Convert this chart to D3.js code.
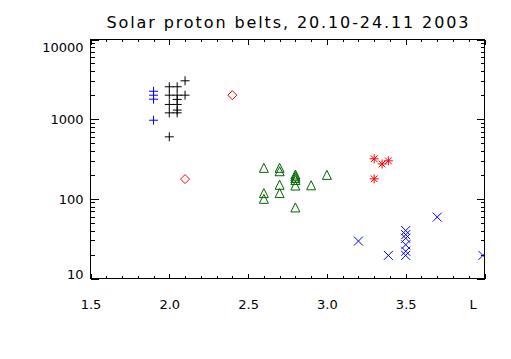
<!DOCTYPE html>
<html>
<head>
<meta charset="utf-8">
<script src="https://cdn.jsdelivr.net/npm/d3@7"></script>
<style>
  html, body { margin: 0; padding: 0; background: #fff; }
  svg { display: block; }
  text { font-family: "DejaVu Sans", sans-serif; fill: #000; }
</style>
</head>
<body>
<script>
// ---- data (L, flux) ----
const title = "Solar proton belts, 20.10-24.11 2003";
const xTickValues = [1.5, 2.0, 2.5, 3.0, 3.5, 4.0];
const xTickLabels = ["1.5", "2.0", "2.5", "3.0", "3.5", "L"];
const yTickValues = [10, 100, 1000, 10000];

const bluePlus = [[1.9, 2240], [1.9, 2000], [1.9, 1780], [1.9, 970]];
const blackPlus = [
  [2.0, 2550], [2.0, 2000], [2.0, 1530], [2.0, 1200], [2.0, 600],
  [2.05, 2550], [2.05, 2000], [2.05, 1770], [2.05, 1530], [2.05, 1300], [2.05, 1200],
  [2.1, 3030], [2.1, 2000]
];
const redDiamond = [[2.4, 2000], [2.1, 177]];
const greenTriangle = [
  [2.6, 245], [2.6, 118], [2.6, 100],
  [2.7, 245], [2.7, 222], [2.7, 150], [2.7, 118],
  [2.8, 202], [2.8, 192], [2.8, 182], [2.8, 172], [2.8, 147], [2.8, 78],
  [2.9, 148], [3.0, 200]
];
const redAsterisk = [[3.3, 318], [3.35, 274], [3.39, 300], [3.3, 178]];
const blueX = [
  [3.2, 29.5], [3.39, 19.5],
  [3.5, 40], [3.5, 35.5], [3.5, 32], [3.5, 26.5], [3.5, 22], [3.5, 19.5],
  [3.7, 59], [3.99, 19.5]
];

// ---- layout ----
const W = 511, H = 359;
const pL = 90.5, pR = 484.5, pT = 39.5, pB = 278.5;

const svg = d3.select("body").append("svg").attr("width", W).attr("height", H);
svg.append("rect").attr("width", W).attr("height", H).attr("fill", "#fff");

const x = d3.scaleLinear().domain([1.5, 4.0]).range([pL, pR]);
const y = d3.scaleLog().domain([10, 10000]).range([pB, pT]);

const xMinor = d3.range(15, 41).map(v => v / 10).filter(v => Math.abs(v * 2 - Math.round(v * 2)) > 1e-6);
const yMinor = [];
[10, 100, 1000].forEach(d => { for (let k = 2; k <= 9; k++) yMinor.push(d * k); });

function styleAxis(g) {
  g.select(".domain").remove();
  g.selectAll("line").attr("stroke", "#000").attr("stroke-width", 1).attr("shape-rendering", "crispEdges");
  g.selectAll("text").attr("font-size", 13).attr("font-family", "DejaVu Sans, sans-serif").attr("fill", "#000");
}

// bottom major
svg.append("g").attr("transform", `translate(0,${pB})`)
  .call(d3.axisBottom(x).tickValues(xTickValues).tickSizeInner(-5).tickSizeOuter(0).tickPadding(21)
    .tickFormat((d, i) => xTickLabels[i]))
  .call(styleAxis)
  .call(g => g.selectAll("text").filter(d => d === 4.0).attr("dx", -12));
// bottom minor
svg.append("g").attr("transform", `translate(0,${pB})`)
  .call(d3.axisBottom(x).tickValues(xMinor).tickSizeInner(-2.5).tickSizeOuter(0).tickFormat(""))
  .call(styleAxis);
// top major/minor
svg.append("g").attr("transform", `translate(0,${pT})`)
  .call(d3.axisTop(x).tickValues(xTickValues).tickSizeInner(-5).tickSizeOuter(0).tickFormat(""))
  .call(styleAxis);
svg.append("g").attr("transform", `translate(0,${pT})`)
  .call(d3.axisTop(x).tickValues(xMinor).tickSizeInner(-2.5).tickSizeOuter(0).tickFormat(""))
  .call(styleAxis);
// left major
svg.append("g").attr("transform", `translate(${pL},0)`)
  .call(d3.axisLeft(y).tickValues(yTickValues).tickSizeInner(-8).tickSizeOuter(0).tickPadding(7)
    .tickFormat(d3.format("d")))
  .call(styleAxis)
  .call(g => g.selectAll("text").attr("dy", d => d === 10000 ? "0.9em" : (d === 10 ? "0.0em" : "0.36em")));
// left minor
svg.append("g").attr("transform", `translate(${pL},0)`)
  .call(d3.axisLeft(y).tickValues(yMinor).tickSizeInner(-4).tickSizeOuter(0).tickFormat(""))
  .call(styleAxis);
// right major/minor
svg.append("g").attr("transform", `translate(${pR},0)`)
  .call(d3.axisRight(y).tickValues(yTickValues).tickSizeInner(-8).tickSizeOuter(0).tickFormat(""))
  .call(styleAxis);
svg.append("g").attr("transform", `translate(${pR},0)`)
  .call(d3.axisRight(y).tickValues(yMinor).tickSizeInner(-4).tickSizeOuter(0).tickFormat(""))
  .call(styleAxis);

// frame
svg.append("rect").attr("x", pL).attr("y", pT).attr("width", pR - pL).attr("height", pB - pT)
  .attr("fill", "none").attr("stroke", "#000").attr("stroke-width", 1).attr("shape-rendering", "crispEdges");

// title
svg.append("text").attr("x", (pL + pR) / 2).attr("y", 28).attr("text-anchor", "middle")
  .attr("font-size", 16).attr("textLength", 362).attr("lengthAdjust", "spacing").text(title);

// clip
svg.append("clipPath").attr("id", "plotclip").append("rect")
  .attr("x", pL).attr("y", pT).attr("width", pR - pL).attr("height", pB - pT);

const s = 4.5;
const symbols = {
  plus: `M${-s},0H${s}M0,${-s}V${s}`,
  x: `M${-s},${-s}L${s},${s}M${-s},${s}L${s},${-s}`,
  diamond: `M0,${-s}L${s},0L0,${s}L${-s},0Z`,
  triangle: `M${-s},${s}L0,${-s}L${s},${s}Z`,
  asterisk: `M${-s},0H${s}M0,${-s}V${s}M${-s*0.75},${-s*0.75}L${s*0.75},${s*0.75}M${-s*0.75},${s*0.75}L${s*0.75},${-s*0.75}`
};

const plot = svg.append("g").attr("clip-path", "url(#plotclip)");
function drawSeries(data, sym, color) {
  plot.append("g").selectAll("path").data(data).join("path")
    .attr("transform", d => `translate(${x(d[0])},${y(d[1])})`)
    .attr("d", symbols[sym])
    .attr("fill", "none").attr("stroke", color).attr("stroke-width", 1);
}
drawSeries(bluePlus, "plus", "#0000ff");
drawSeries(blackPlus, "plus", "#000000");
drawSeries(redDiamond, "diamond", "#ff0000");
drawSeries(greenTriangle, "triangle", "#006400");
drawSeries(redAsterisk, "asterisk", "#ff0000");
drawSeries(blueX, "x", "#0000ff");
</script>
</body>
</html>
